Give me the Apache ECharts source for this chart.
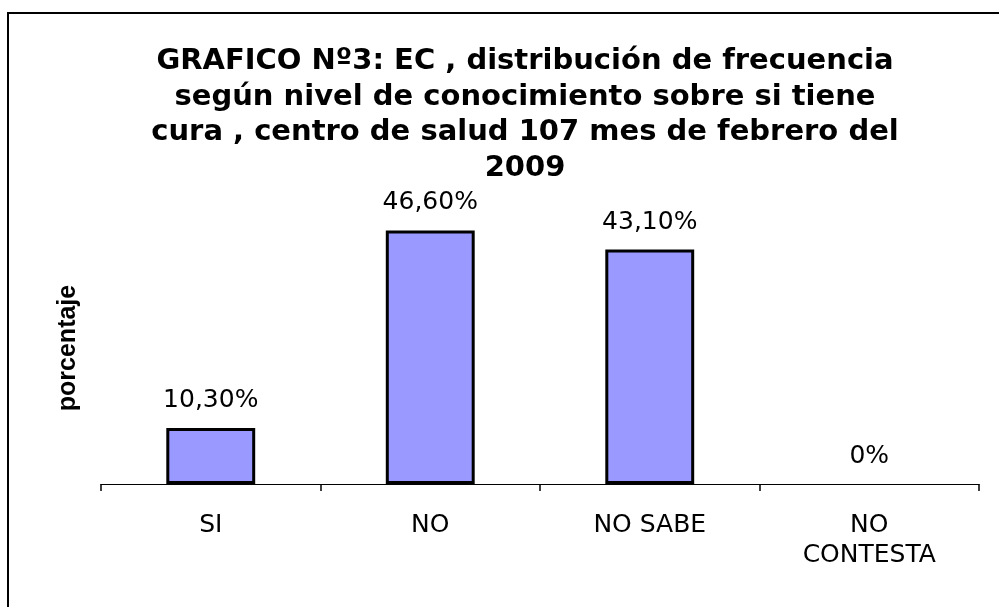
<!DOCTYPE html>
<html>
<head>
<meta charset="utf-8">
<script src="https://cdn.jsdelivr.net/npm/echarts@6/dist/echarts.min.js"></script>
<style>html,body{margin:0;padding:0;background:#fff}#c{width:999px;height:607px}</style>
</head>
<body>
<div id="c"></div>
<script>
const titleText = "GRAFICO Nº3: EC , distribución de frecuencia\nsegún nivel de conocimiento sobre si tiene\ncura , centro de salud 107 mes de febrero del\n2009";
const categories = ["SI", "NO", "NO SABE", "NO\nCONTESTA"];
const values = [10.3, 46.6, 43.1, 0];
const yAxisName = "porcentaje";

function fmt(v) {
  return v === 0 ? "0%" : v.toFixed(2).replace(".", ",") + "%";
}

const chart = echarts.init(document.getElementById("c"));
chart.setOption({
  backgroundColor: "#fff",
  animation: false,
  title: {
    text: titleText,
    left: 520,
    top: 39,
    textAlign: "center",
    textStyle: {
      fontFamily: "DejaVu Sans",
      fontWeight: "bold",
      fontSize: 29,
      lineHeight: 35.5,
      color: "#000"
    }
  },
  graphic: [{
    type: "rect",
    shape: { x: 8, y: 13, width: 1200, height: 800 },
    style: { fill: "none", stroke: "#000", lineWidth: 2 },
    silent: true
  }],
  grid: { left: 101, right: 20, top: 212, bottom: 123 },
  xAxis: {
    type: "category",
    data: categories,
    axisLine: { lineStyle: { color: "#000", width: 1 } },
    axisTick: { show: true, length: 7, alignWithLabel: false, lineStyle: { color: "#000", width: 1.5 } },
    axisLabel: {
      margin: 26,
      fontFamily: "DejaVu Sans",
      fontSize: 25,
      lineHeight: 30,
      color: "#000",
      interval: 0
    }
  },
  yAxis: {
    type: "value",
    min: 0,
    max: 50,
    name: yAxisName,
    nameLocation: "middle",
    nameGap: 20,
    nameTextStyle: {
      fontFamily: "Liberation Sans",
      fontWeight: "bold",
      fontSize: 25,
      color: "#000"
    },
    axisLine: { show: false },
    axisTick: { show: false },
    axisLabel: { show: false },
    splitLine: { show: false }
  },
  series: [{
    type: "bar",
    barWidth: "40.5%",
    data: values.map(v => v === 0 ? { value: v, itemStyle: { borderWidth: 0 } } : v),
    itemStyle: { color: "#9999FF", borderColor: "#000", borderWidth: 3 },
    label: {
      show: true,
      position: "top",
      distance: 15,
      fontFamily: "DejaVu Sans",
      fontSize: 25,
      color: "#000",
      formatter: p => fmt(p.value)
    }
  }]
});
</script>
</body>
</html>
